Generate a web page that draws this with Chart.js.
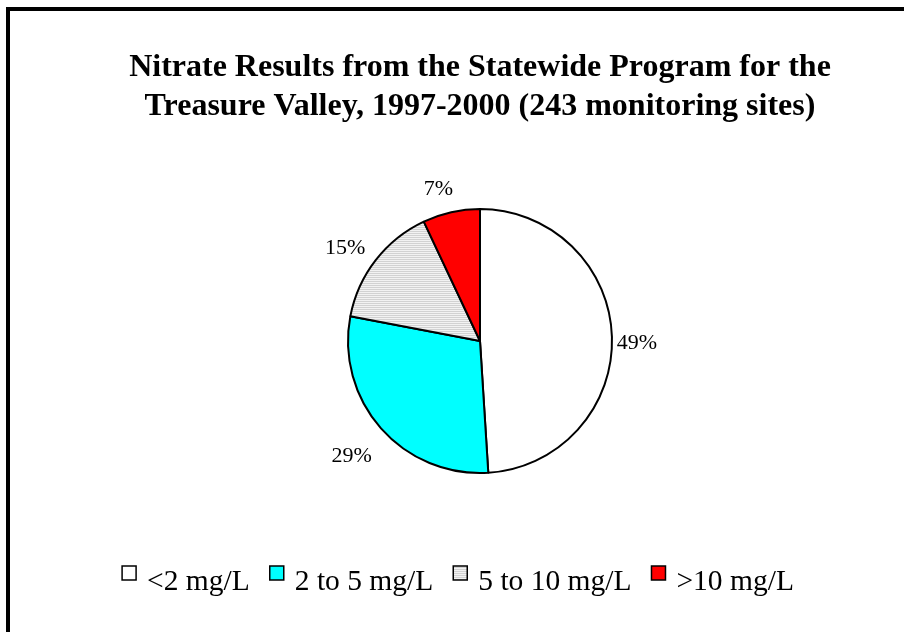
<!DOCTYPE html>
<html>
<head>
<meta charset="utf-8">
<script src="https://cdn.jsdelivr.net/npm/chart.js@4.4.1/dist/chart.umd.min.js"></script>
<style>
  html, body { margin: 0; padding: 0; background: #ffffff; }
  #wrap { position: relative; width: 904px; height: 632px; }
  canvas { display: block; }
</style>
</head>
<body>
<div id="wrap"><canvas id="c" width="904" height="632"></canvas></div>
<script>
// ---- data ----
const categories = ['<2 mg/L', '2 to 5 mg/L', '5 to 10 mg/L', '>10 mg/L'];
const percentValues = [49, 29, 15, 7];
const titleLines = [
  'Nitrate Results from the Statewide Program for the',
  'Treasure Valley, 1997-2000 (243 monitoring sites)'
];

// ---- styles ----
function stripePattern() {
  const c = document.createElement('canvas');
  c.width = 4; c.height = 2;
  const g = c.getContext('2d');
  g.fillStyle = '#f2f2f2'; g.fillRect(0, 0, 4, 1);
  g.fillStyle = '#d2d2d2'; g.fillRect(0, 1, 4, 1);
  return g.createPattern(c, 'repeat');
}
const pattern = stripePattern();
const sliceColors = ['#ffffff', '#00ffff', pattern, '#ff0000'];
const SERIF = '"Liberation Serif", "Times New Roman", serif';

const framePlugin = {
  id: 'frame',
  beforeDraw(chart) {
    const ctx = chart.ctx;
    ctx.save();
    ctx.fillStyle = '#ffffff';
    ctx.fillRect(0, 0, chart.width, chart.height);
    ctx.fillStyle = '#000000';
    ctx.fillRect(6, 7, chart.width - 6, 4);
    ctx.fillRect(6, 7, 4, chart.height - 7);
    ctx.restore();
  }
};

const labelPlugin = {
  id: 'pctLabels',
  afterDatasetsDraw(chart) {
    const ctx = chart.ctx;
    const meta = chart.getDatasetMeta(0);
    const vals = chart.data.datasets[0].data;
    ctx.save();
    ctx.font = '22px ' + SERIF;
    ctx.fillStyle = '#000';
    ctx.textAlign = 'center';
    ctx.textBaseline = 'middle';
    meta.data.forEach((arc, i) => {
      const p = arc.getProps(['x', 'y', 'startAngle', 'endAngle', 'outerRadius'], true);
      const mid = (p.startAngle + p.endAngle) / 2;
      const r = p.outerRadius + 31;
      ctx.fillText(vals[i] + '%', p.x + Math.cos(mid) * r - 6, p.y + Math.sin(mid) * r + 7);
    });
    ctx.restore();
  }
};

const legendPlugin = {
  id: 'bottomLegend',
  afterDraw(chart) {
    const ctx = chart.ctx;
    const ds = chart.data.datasets[0];
    const labels = chart.data.labels;
    const box = 14, boxGap = 11, itemGap = 20;
    ctx.save();
    ctx.font = '29.5px ' + SERIF;
    const widths = labels.map(l => ctx.measureText(l).width);
    let total = 0;
    widths.forEach((w, i) => { total += box + boxGap + w + (i < widths.length - 1 ? itemGap : 0); });
    const cx = 458;
    let x = cx - total / 2;
    const baseY = 590, boxTop = 566;
    labels.forEach((l, i) => {
      ctx.fillStyle = ds.backgroundColor[i];
      ctx.fillRect(x, boxTop, box, box);
      ctx.strokeStyle = '#000';
      ctx.lineWidth = 1.5;
      ctx.strokeRect(x, boxTop, box, box);
      ctx.fillStyle = '#000';
      ctx.textAlign = 'left';
      ctx.textBaseline = 'alphabetic';
      ctx.fillText(l, x + box + boxGap, baseY);
      x += box + boxGap + widths[i] + itemGap;
    });
    ctx.restore();
  }
};

new Chart(document.getElementById('c'), {
  type: 'pie',
  data: {
    labels: categories,
    datasets: [{
      data: percentValues,
      backgroundColor: sliceColors,
      borderColor: '#000000',
      borderWidth: 2,
      radius: 132
    }]
  },
  options: {
    responsive: false,
    devicePixelRatio: 1,
    animation: false,
    layout: { padding: { top: 48, left: 66, right: 10, bottom: 76 } },
    plugins: {
      legend: { display: false },
      tooltip: { enabled: false },
      title: {
        display: true,
        text: titleLines,
        color: '#000000',
        font: { family: SERIF, size: 32, weight: 'bold', lineHeight: 1.22 },
        padding: { top: 0, bottom: 0 }
      }
    }
  },
  plugins: [framePlugin, labelPlugin, legendPlugin]
});
</script>
</body>
</html>
